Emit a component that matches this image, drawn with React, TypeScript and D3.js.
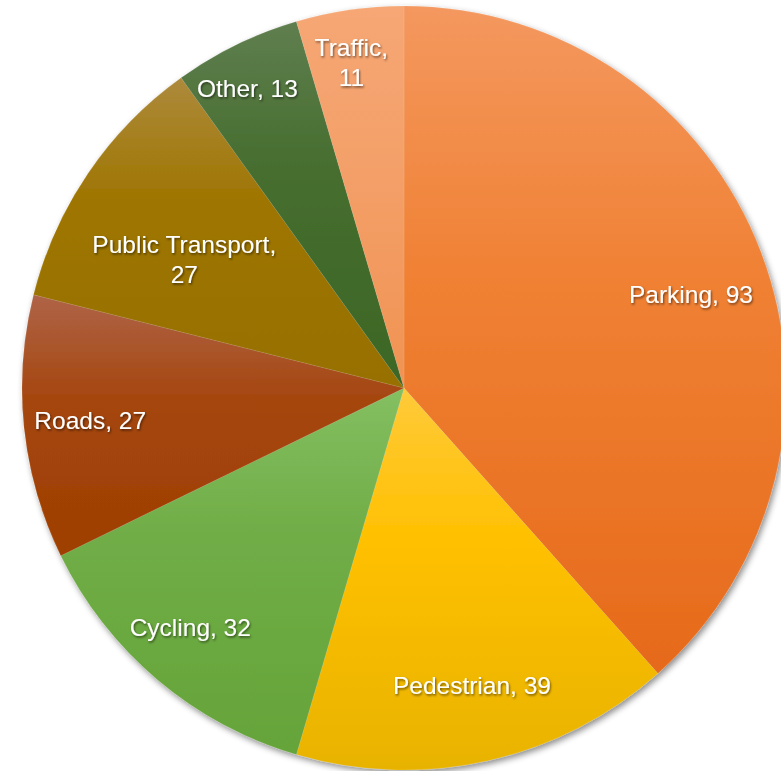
import { useEffect, useRef } from 'react';
import * as d3 from 'd3';

// slice data, clockwise from 12 o'clock
const categories: string[] = ['Parking', 'Pedestrian', 'Cycling', 'Roads', 'Public Transport', 'Other', 'Traffic'];
const values: number[] = [93, 39, 32, 27, 27, 13, 11];

// label layout (not data): radius as fraction of R, small angle nudge in degrees
const labelRadius: number[] = [0.79, 0.8, 0.84, 0.826, 0.667, 0.884, 0.864];
const labelNudge: number[] = [2.8, -0.2, 1.6, 0, -3.8, -1.6, -1.0];
const labelWrap: boolean[] = [false, false, false, false, true, false, true];

// [light, base, dark] per slice
const palette: string[][] = [
  ['#F4985F', '#F08134', '#E66A1B'],
  ['#FFCA3A', '#FFC000', '#E8B300'],
  ['#84BF61', '#70AD47', '#65A439'],
  ['#AF6447', '#A5460F', '#9E3F00'],
  ['#AD8A3C', '#9E7500', '#977000'],
  ['#5F7E4F', '#466E2F', '#3C6625'],
  ['#F6A774', '#F4A06A', '#F09352'],
];

const W = 781;
const H = 771;
const cx = 404;
const cy = 388;
const R = 382;

type Slice = { name: string; value: number; idx: number };

const App: React.FC = () => {
  const svgRef = useRef<SVGSVGElement | null>(null);

  useEffect(() => {
    if (!svgRef.current) return;
    const svg = d3.select(svgRef.current);
    svg.selectAll('*').remove();

    const data: Slice[] = categories.map((c, i) => ({ name: c, value: values[i], idx: i }));

    const defs = svg.append('defs');
    const pieShadow = defs.append('filter').attr('id', 'pieShadow')
      .attr('x', '-10%').attr('y', '-10%').attr('width', '120%').attr('height', '120%');
    pieShadow.append('feDropShadow')
      .attr('dx', 2).attr('dy', 3).attr('stdDeviation', 3)
      .attr('flood-color', '#000').attr('flood-opacity', 0.45);

    const textShadow = defs.append('filter').attr('id', 'textShadow')
      .attr('x', '-10%').attr('y', '-30%').attr('width', '120%').attr('height', '160%');
    textShadow.append('feDropShadow')
      .attr('dx', 1).attr('dy', 1.5).attr('stdDeviation', 1)
      .attr('flood-color', '#000').attr('flood-opacity', 0.55);

    palette.forEach((cols, i) => {
      const lg = defs.append('linearGradient').attr('id', `grad${i}`)
        .attr('x1', 0).attr('y1', 0).attr('x2', 0).attr('y2', 1);
      lg.append('stop').attr('offset', '0%').attr('stop-color', cols[0]);
      lg.append('stop').attr('offset', '40%').attr('stop-color', cols[1]);
      lg.append('stop').attr('offset', '100%').attr('stop-color', cols[2]);
    });

    const pie = d3.pie<Slice>().value((d) => d.value).sort(null);
    const arcs = pie(data);

    const arc = d3.arc<d3.PieArcDatum<Slice>>().innerRadius(0).outerRadius(R);

    const g = svg.append('g').attr('transform', `translate(${cx},${cy})`);

    g.append('g')
      .attr('filter', 'url(#pieShadow)')
      .selectAll('path')
      .data(arcs)
      .enter()
      .append('path')
      .attr('d', arc)
      .attr('fill', (d) => `url(#grad${d.data.idx})`)
      .attr('stroke', 'rgba(255,255,255,0.12)')
      .attr('stroke-width', 0.8);

    const labels = g.append('g')
      .attr('filter', 'url(#textShadow)')
      .attr('font-family', 'Liberation Sans, Arial, Helvetica, sans-serif')
      .attr('font-size', 24.5)
      .attr('fill', '#fff')
      .attr('text-anchor', 'middle');

    arcs.forEach((a) => {
      const i = a.data.idx;
      const mid = (a.startAngle + a.endAngle) / 2 + (labelNudge[i] * Math.PI) / 180;
      const rr = R * labelRadius[i];
      const x = Math.sin(mid) * rr;
      const y = -Math.cos(mid) * rr;
      const t = labels.append('text')
        .attr('x', x)
        .attr('y', y)
        .attr('dominant-baseline', 'central');
      if (labelWrap[i]) {
        t.append('tspan').attr('x', x).attr('dy', '-0.6em').text(`${a.data.name},`);
        t.append('tspan').attr('x', x).attr('dy', '1.2em').text(`${a.data.value}`);
      } else {
        t.text(`${a.data.name}, ${a.data.value}`);
      }
    });
  }, []);

  return (
    <svg
      ref={svgRef}
      width={W}
      height={H}
      style={{ position: 'absolute', left: 0, top: 0, background: '#fff' }}
    ></svg>
  );
};

export default App;
